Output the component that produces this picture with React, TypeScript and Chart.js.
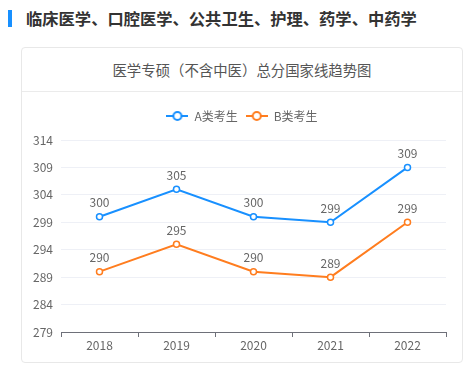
import React, { useEffect, useRef } from "react";
import { Chart, registerables } from "chart.js";

Chart.register(...registerables);

const years = ["2018", "2019", "2020", "2021", "2022"];
const seriesA = [300, 305, 300, 299, 309];
const seriesB = [290, 295, 290, 289, 299];
const seriesNames = ["A类考生", "B类考生"];
const seriesColors = ["#1890ff", "#ff7d1f"];
const yMin = 279;
const yMax = 314;
const yStep = 5;

const FONT = "'Noto Sans CJK SC', 'Noto Sans', sans-serif";

function makeLegendIcon(color: string) {
  const c = document.createElement("canvas");
  c.width = 22;
  c.height = 12;
  const ctx = c.getContext("2d")!;
  ctx.strokeStyle = color;
  ctx.lineWidth = 2;
  ctx.beginPath();
  ctx.moveTo(0, 6);
  ctx.lineTo(22, 6);
  ctx.stroke();
  ctx.beginPath();
  ctx.arc(11, 6, 4, 0, Math.PI * 2);
  ctx.fillStyle = "#fff";
  ctx.fill();
  ctx.stroke();
  return c;
}

const valueLabels = {
  id: "valueLabels",
  afterDatasetsDraw(chart: any) {
    const ctx = chart.ctx;
    ctx.save();
    ctx.font = `12px ${FONT}`;
    ctx.fillStyle = "#666";
    ctx.textAlign = "center";
    ctx.textBaseline = "middle";
    chart.data.datasets.forEach((ds: any, i: number) => {
      const meta = chart.getDatasetMeta(i);
      meta.data.forEach((pt: any, j: number) => {
        ctx.fillText(String(ds.data[j]), pt.x, pt.y - 14);
      });
    });
    ctx.restore();
  },
};

const legendSpacing = {
  id: "legendSpacing",
  beforeInit(chart: any) {
    const legend = chart.legend;
    if (!legend) return;
    const origFit = legend.fit;
    legend.fit = function () {
      origFit.call(this);
      this.height += 8;
    };
  },
};

export default function App() {
  const ref = useRef<HTMLCanvasElement>(null);

  useEffect(() => {
    const icons = seriesColors.map(makeLegendIcon);
    const chart = new Chart(ref.current!, {
      type: "line",
      data: {
        labels: years,
        datasets: [seriesA, seriesB].map((d, i) => ({
          label: seriesNames[i],
          data: d,
          borderColor: seriesColors[i],
          backgroundColor: "#fff",
          borderWidth: 2,
          pointRadius: 3,
          pointBorderWidth: 1.5,
          pointBackgroundColor: "#fff",
          pointBorderColor: seriesColors[i],
          tension: 0,
        })),
      },
      options: {
        animation: false,
        responsive: false,
        layout: { padding: { top: 10, left: 0, right: 0, bottom: 0 } },
        plugins: {
          tooltip: { enabled: false },
          legend: {
            position: "top",
            align: "center",
            labels: {
              usePointStyle: true,
              pointStyleWidth: 22,
              padding: 8,
              color: "#666",
              font: { size: 12, family: FONT },
              generateLabels: (chart: any) =>
                chart.data.datasets.map((ds: any, i: number) => ({
                  text: ds.label,
                  pointStyle: icons[i],
                  fillStyle: seriesColors[i],
                  strokeStyle: seriesColors[i],
                  lineWidth: 0,
                  fontColor: "#666",
                  hidden: false,
                  datasetIndex: i,
                })),
            },
          },
        },
        scales: {
          x: {
            offset: true,
            grid: {
              offset: true,
              drawOnChartArea: false,
              drawTicks: true,
              tickLength: 5,
              color: "#6e7079",
            },
            border: { display: true, color: "#6e7079", width: 1 },
            ticks: { color: "#666", padding: 1, font: { size: 12, family: FONT } },
            afterFit: (s: any) => {
              s.height = 30;
            },
          },
          y: {
            min: yMin,
            max: yMax,
            grid: { drawTicks: false, color: "#eef0f6" },
            border: { display: false },
            ticks: {
              stepSize: yStep,
              padding: 8,
              color: "#666",
              font: { size: 12, family: FONT },
            },
            afterFit: (s: any) => {
              s.width = 39;
            },
          },
          yRight: {
            position: "right",
            min: yMin,
            max: yMax,
            grid: { display: false, drawOnChartArea: false },
            border: { display: false },
            ticks: { display: false },
            afterFit: (s: any) => {
              s.width = 16;
            },
          },
        },
      } as any,
      plugins: [valueLabels, legendSpacing],
    });
    return () => chart.destroy();
  }, []);

  return (
    <div
      style={{
        position: "fixed",
        left: 0,
        top: 0,
        width: 473,
        height: 372,
        background: "#fff",
        fontFamily: FONT,
      }}
    >
      <div
        style={{
          position: "absolute",
          left: 8,
          top: 10,
          width: 4,
          height: 17,
          background: "#1890ff",
        }}
      />
      <div
        style={{
          position: "absolute",
          left: 26,
          top: 7,
          height: 22,
          lineHeight: "22px",
          fontSize: 16.3,
          fontWeight: "bold",
          color: "#333",
          whiteSpace: "nowrap",
        }}
      >
        临床医学、口腔医学、公共卫生、护理、药学、中药学
      </div>
      <div
        style={{
          position: "absolute",
          left: 21,
          top: 47,
          width: 442,
          height: 316,
          boxSizing: "border-box",
          border: "1px solid #e8e8e8",
          borderRadius: 4,
          overflow: "hidden",
        }}
      >
        <div
          style={{
            height: 43,
            borderBottom: "1px solid #ebebeb",
            textAlign: "center",
            lineHeight: "43px",
            fontSize: 14.4,
            color: "#555",
            whiteSpace: "nowrap",
          }}
        >
          医学专硕（不含中医）总分国家线趋势图
        </div>
        <canvas ref={ref} width={440} height={270} style={{ display: "block", width: 440, height: 270 }} />
      </div>
    </div>
  );
}
